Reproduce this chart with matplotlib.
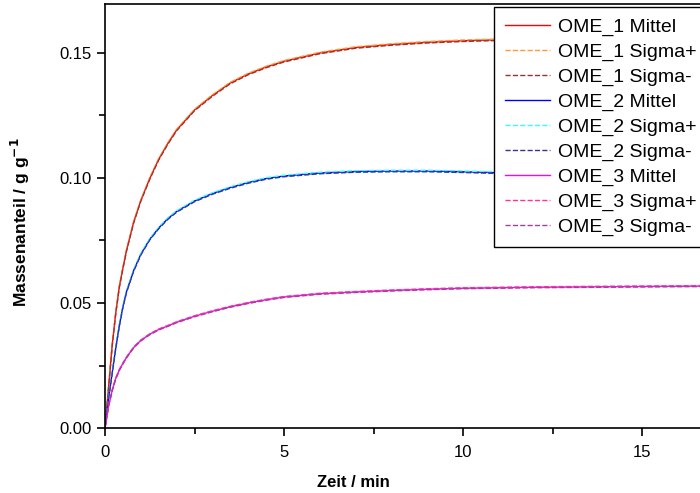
import matplotlib.pyplot as plt
from matplotlib.ticker import MultipleLocator

plt.rcParams['font.family'] = ['Liberation Sans', 'DejaVu Sans']

# Zeit / min
zeit = [0, 0.1, 0.2, 0.3, 0.4, 0.5, 0.6, 0.8, 1.0, 1.25, 1.5, 1.75, 2.0, 2.5, 3.0, 3.5,
        4.0, 4.5, 5.0, 6.0, 7.0, 8.0, 9.0, 10.0, 11.0, 12.0, 13.0, 14.0, 15.0, 16.0, 17.0]

# Massenanteil / g g^-1
ome1_mittel = [0, 0.0163, 0.0330, 0.0460, 0.0565, 0.0640, 0.0710, 0.0823, 0.0910, 0.0998, 0.1075,
               0.1137, 0.1192, 0.1272, 0.1330, 0.1380, 0.1416, 0.1444, 0.1467, 0.1500, 0.1522,
               0.1534, 0.1543, 0.1549, 0.1553, 0.1556, 0.1558, 0.1560, 0.1561, 0.1562, 0.1563]
ome1_plus = [0, 0.0166, 0.0333, 0.0463, 0.0568, 0.0643, 0.0713, 0.0826, 0.0913, 0.1001, 0.1078,
             0.1140, 0.1195, 0.1275, 0.1333, 0.1383, 0.1419, 0.1447, 0.1470, 0.1503, 0.1525,
             0.1537, 0.1546, 0.1552, 0.1556, 0.1559, 0.1561, 0.1563, 0.1564, 0.1565, 0.1566]
ome1_minus = [0, 0.0160, 0.0327, 0.0457, 0.0562, 0.0637, 0.0707, 0.0820, 0.0907, 0.0995, 0.1072,
              0.1134, 0.1189, 0.1269, 0.1327, 0.1377, 0.1413, 0.1441, 0.1464, 0.1497, 0.1519,
              0.1531, 0.1540, 0.1546, 0.1550, 0.1553, 0.1555, 0.1557, 0.1558, 0.1559, 0.1560]

ome2_mittel = [0, 0.0120, 0.0220, 0.0320, 0.0410, 0.0485, 0.0545, 0.0630, 0.0695, 0.0755, 0.0800,
               0.0837, 0.0866, 0.0908, 0.0938, 0.0962, 0.0982, 0.0998, 0.1008, 0.1020, 0.1026,
               0.1028, 0.1028, 0.1025, 0.1021, 0.1018, 0.1016, 0.1014, 0.1013, 0.1012, 0.1011]
ome2_plus = [0, 0.0123, 0.0223, 0.0323, 0.0413, 0.0488, 0.0548, 0.0633, 0.0698, 0.0758, 0.0803,
             0.0840, 0.0869, 0.0911, 0.0941, 0.0965, 0.0985, 0.1001, 0.1011, 0.1023, 0.1029,
             0.1031, 0.1031, 0.1028, 0.1024, 0.1021, 0.1019, 0.1017, 0.1016, 0.1015, 0.1014]
ome2_minus = [0, 0.0117, 0.0217, 0.0317, 0.0407, 0.0482, 0.0542, 0.0627, 0.0692, 0.0752, 0.0797,
              0.0834, 0.0863, 0.0905, 0.0935, 0.0959, 0.0979, 0.0995, 0.1005, 0.1017, 0.1023,
              0.1025, 0.1025, 0.1022, 0.1018, 0.1015, 0.1013, 0.1011, 0.1010, 0.1009, 0.1008]

ome3_mittel = [0, 0.0088, 0.0150, 0.0198, 0.0232, 0.0258, 0.0282, 0.0322, 0.0350, 0.0375, 0.0394,
               0.0408, 0.0423, 0.0447, 0.0467, 0.0485, 0.0500, 0.0513, 0.0524, 0.0537, 0.0544,
               0.0550, 0.0555, 0.0559, 0.0561, 0.0563, 0.0564, 0.0565, 0.0566, 0.0567, 0.0568]
ome3_plus = [0, 0.0090, 0.0152, 0.0200, 0.0234, 0.0260, 0.0284, 0.0324, 0.0352, 0.0377, 0.0396,
             0.0410, 0.0425, 0.0449, 0.0469, 0.0487, 0.0502, 0.0515, 0.0526, 0.0539, 0.0546,
             0.0552, 0.0557, 0.0561, 0.0563, 0.0565, 0.0566, 0.0567, 0.0568, 0.0569, 0.0570]
ome3_minus = [0, 0.0086, 0.0148, 0.0196, 0.0230, 0.0256, 0.0280, 0.0320, 0.0348, 0.0373, 0.0392,
              0.0406, 0.0421, 0.0445, 0.0465, 0.0483, 0.0498, 0.0511, 0.0522, 0.0535, 0.0542,
              0.0548, 0.0553, 0.0557, 0.0559, 0.0561, 0.0562, 0.0563, 0.0564, 0.0565, 0.0566]

labels = ['OME_1 Mittel', 'OME_1 Sigma+', 'OME_1 Sigma-',
          'OME_2 Mittel', 'OME_2 Sigma+', 'OME_2 Sigma-',
          'OME_3 Mittel', 'OME_3 Sigma+', 'OME_3 Sigma-']
serien = [ome1_mittel, ome1_plus, ome1_minus,
          ome2_mittel, ome2_plus, ome2_minus,
          ome3_mittel, ome3_plus, ome3_minus]
farben = ['#ff0000', '#ff9933', '#993333',
          '#0000ff', '#33ffff', '#333399',
          '#ff00ff', '#ff3399', '#a040a0']
stile = ['-', '--', '--'] * 3

##############################################################################
fig = plt.figure(figsize=(7, 4.93), dpi=100)
ax = fig.add_axes([105 / 700, 65 / 493, 595 / 700, 424 / 493])

for y, lab, c, ls in zip(serien, labels, farben, stile):
    ax.plot(zeit, y, color=c, linestyle=ls, linewidth=1.0, label=lab)

ax.set_xlim(0, 16.62)
ax.set_ylim(0, 0.1696)
ax.xaxis.set_major_locator(MultipleLocator(5))
ax.xaxis.set_minor_locator(MultipleLocator(2.5))
ax.yaxis.set_major_locator(MultipleLocator(0.05))
ax.yaxis.set_minor_locator(MultipleLocator(0.025))
ax.yaxis.set_major_formatter(plt.FormatStrFormatter('%.2f'))
ax.tick_params(which='major', direction='out', length=6, width=1.2, labelsize=12)
ax.tick_params(axis='x', which='major', pad=6)
ax.tick_params(which='minor', direction='out', length=4, width=1.2)
ax.spines['right'].set_visible(False)
for s in ['left', 'bottom', 'top']:
    ax.spines[s].set_linewidth(1.2)

ax.set_xlabel('Zeit / min', fontsize=12, fontweight='bold')
ax.xaxis.set_label_coords(248 / 595, -47 / 424)
ax.set_ylabel('Massenanteil / g g$^{\\mathbf{-1}}$', fontsize=12.5, fontweight='bold')
ax.yaxis.set_label_coords(-73 / 595, 206 / 424)

leg = ax.legend(loc='upper left', bbox_to_anchor=(494 / 700, 1 - 7 / 493),
                bbox_transform=fig.transFigure, fontsize=14, frameon=True,
                fancybox=False, edgecolor='black', framealpha=1, handlelength=2.3,
                handletextpad=0.4, labelspacing=0.37, borderaxespad=0, borderpad=0.58)
leg.get_frame().set_linewidth(1.0)

plt.savefig('out.png', dpi=100)
